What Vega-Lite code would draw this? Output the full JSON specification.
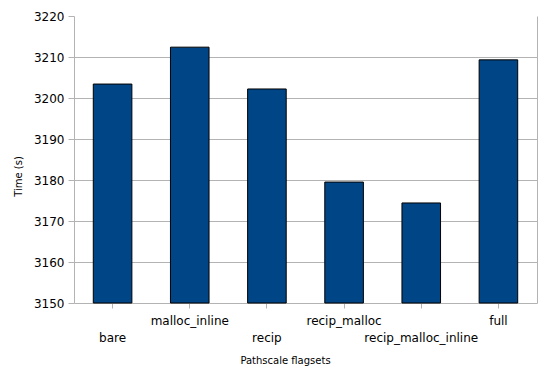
{
  "$schema": "https://vega.github.io/schema/vega-lite/v6.json",
  "width": 463,
  "height": 287,
  "autosize": "none",
  "padding": {"left": 74, "top": 16, "right": 18, "bottom": 77},
  "config": {"view": {"stroke": null}, "font": "DejaVu Sans"},
  "data": {
    "values": [
      {"flagset": "bare", "time": 3203.4},
      {"flagset": "malloc_inline", "time": 3212.4},
      {"flagset": "recip", "time": 3202.2},
      {"flagset": "recip_malloc", "time": 3179.5},
      {"flagset": "recip_malloc_inline", "time": 3174.4},
      {"flagset": "full", "time": 3209.3}
    ]
  },
  "encoding": {
    "x": {
      "field": "flagset",
      "type": "nominal",
      "sort": null,
      "scale": {"paddingInner": 0.5, "paddingOuter": 0.25},
      "axis": {
        "title": "Pathscale flagsets",
        "titleFont": "DejaVu Sans",
        "titleFontSize": 10,
        "titleFontWeight": "normal",
        "titleColor": "#000000",
        "titleX": 211,
        "titleY": 57,
        "titleBaseline": "middle",
        "titleAnchor": null,
        "labelAngle": 0,
        "labelFont": "DejaVu Sans",
        "labelFontSize": 12,
        "labelColor": "#000000",
        "labelPadding": 7,
        "labelBaseline": "top",
        "labelLineHeight": 17,
        "labelOverlap": false,
        "labelExpr": "indexof(['bare','recip','recip_malloc_inline'], datum.value) >= 0 ? ['', datum.label] : datum.label",
        "domainColor": "#b3b3b3",
        "tickColor": "#b3b3b3",
        "tickSize": 5,
        "grid": false
      }
    }
  },
  "layer": [
    {
      "mark": {"type": "bar", "color": "#004586", "stroke": "#000000", "strokeWidth": 1},
      "encoding": {
        "y": {
          "field": "time",
          "type": "quantitative",
          "scale": {"domain": [3150, 3220], "nice": false, "zero": false},
          "axis": {
            "title": "Time (s)",
            "titleFont": "DejaVu Sans",
            "titleFontSize": 10,
            "titleFontWeight": "normal",
            "titleColor": "#000000",
            "titleX": -56,
            "titleY": 160,
            "titleBaseline": "middle",
            "titleAngle": -90,
            "values": [3150, 3160, 3170, 3180, 3190, 3200, 3210, 3220],
            "format": "d",
            "labelFont": "DejaVu Sans",
            "labelFontSize": 12,
            "labelColor": "#000000",
            "labelPadding": 4,
            "domainColor": "#b3b3b3",
            "tickColor": "#b3b3b3",
            "tickSize": 6,
            "gridColor": "#b3b3b3",
            "gridOpacity": {"condition": {"test": "datum.value >= 3220 || datum.value <= 3150", "value": 0}, "value": 1}
          }
        },
        "y2": {"datum": 3150}
      }
    },
    {
      "mark": {"type": "bar", "opacity": 0},
      "encoding": {
        "y": {
          "field": "time",
          "type": "quantitative",
          "axis": {
            "orient": "right",
            "labels": false,
            "ticks": false,
            "grid": false,
            "title": null,
            "domainColor": "#b3b3b3"
          }
        },
        "y2": {"datum": 3150}
      }
    }
  ],
  "resolve": {"axis": {"y": "independent"}}
}
